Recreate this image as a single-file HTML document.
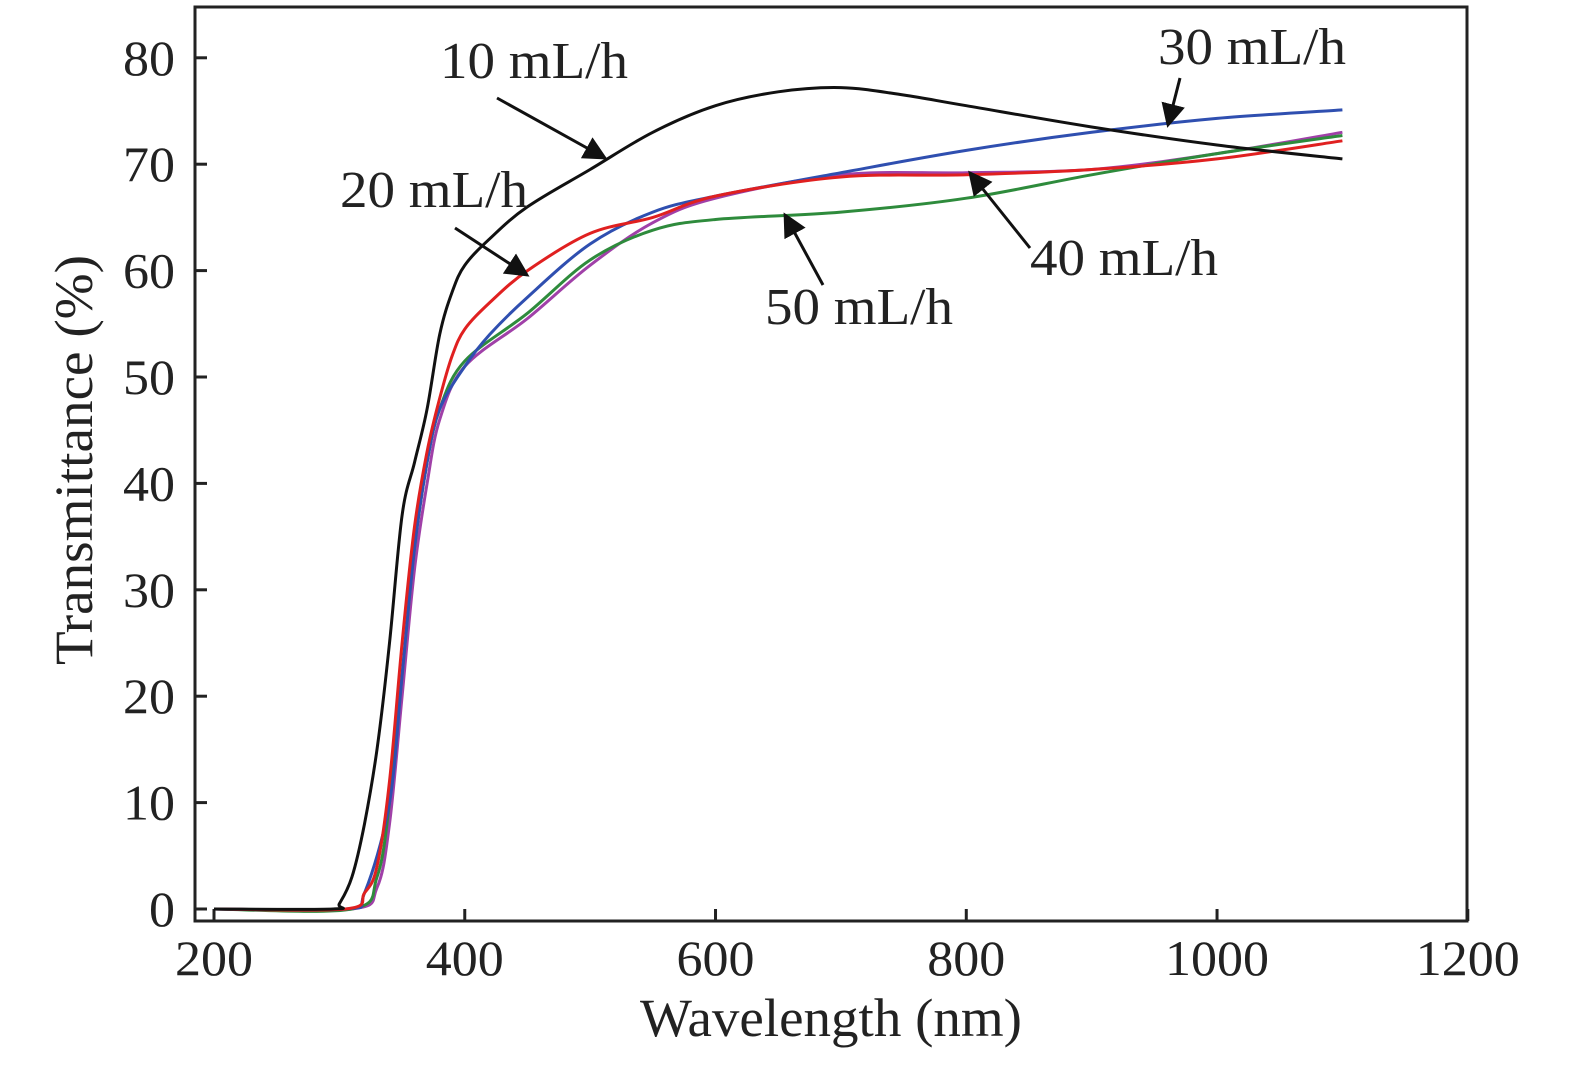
<!DOCTYPE html>
<html><head><meta charset="utf-8"><style>body{margin:0;background:#fff}svg text{font-family:"Liberation Serif",serif;fill:#222}</style></head>
<body>
<svg id="c" width="1575" height="1063"></svg>
<script>
const xTicks=[200,400,600,800,1000,1200];
const yTicks=[0,10,20,30,40,50,60,70,80];
const s10=[[200,0],[295,0],[300,0.5],[310,3],[320,8],[330,15],[340,25],[350,37],[360,42],[370,47],[380,54],[390,58],[400,60.5],[420,63],[450,66],[500,69.5],[550,73],[600,75.5],[650,76.8],[700,77.2],[750,76.5],[800,75.5],[900,73.5],[1000,71.8],[1100,70.5]];
const s20=[[200,0],[305,0],[320,1.5],[330,4],[340,12],[350,25],[360,36],[370,43],[380,48],[390,52],[400,54.5],[420,57],[450,60],[500,63.5],[550,65],[600,67],[700,68.8],[800,69],[900,69.5],[1000,70.5],[1100,72.2]];
const s30=[[200,0],[305,0],[320,1.5],[340,10],[350,22],[360,34],[370,42],[380,47],[400,51],[420,54],[450,57.5],[500,62.5],[550,65.5],[600,67],[700,69.2],[800,71.3],[900,73],[1000,74.3],[1100,75.1]];
const s40=[[200,0],[310,0],[330,2],[340,8],[350,20],[360,32],[370,40],[380,46],[400,51],[450,55.5],[500,60.5],[550,64.5],[600,66.8],[700,69],[800,69.2],[900,69.5],[1000,71],[1100,73]];
const s50=[[200,0],[310,0],[330,3],[340,10],[350,22],[360,34],[370,42],[380,47],[400,51.5],[450,56],[500,61],[550,63.8],[600,64.8],[700,65.5],[800,66.8],[900,69],[1000,71],[1100,72.7]];
const X=v=>214+(v-200)*1.2538, Y=v=>909-v*10.64;
const svg=document.getElementById('c');const NS='http://www.w3.org/2000/svg';
function mk(t,a,txt){const e=document.createElementNS(NS,t);for(const k in a)e.setAttribute(k,a[k]);if(txt!=null)e.textContent=txt;svg.appendChild(e);return e;}
let e=mk('rect',{x:195,y:7,width:1272,height:914,fill:'none',stroke:'#222','stroke-width':3});

xTicks.forEach(t=>{let l=mk('line',{x1:X(t),x2:X(t),y1:921,y2:909,stroke:'#222','stroke-width':3});
let tx=mk('text',{x:X(t),y:975,'font-size':50,'text-anchor':'middle',textLength:String(t).length*26,lengthAdjust:'spacingAndGlyphs'},t);});
yTicks.forEach(t=>{let l=mk('line',{x1:195,x2:207,y1:Y(t),y2:Y(t),stroke:'#222','stroke-width':3});
let tx=mk('text',{x:175,y:Y(t)+17,'font-size':50,'text-anchor':'end',textLength:String(t).length*26,lengthAdjust:'spacingAndGlyphs'},t);});
e=mk('text',{x:831,y:1036,'font-size':54,'text-anchor':'middle',textLength:382,lengthAdjust:'spacingAndGlyphs'},'Wavelength (nm)');
e=mk('text',{x:0,y:0,'font-size':54,'text-anchor':'middle',textLength:410,lengthAdjust:'spacingAndGlyphs',transform:'translate(92,460) rotate(-90)'},'Transmittance (%)');
function path(pts){const P=pts.map(p=>[X(p[0]),Y(p[1])]);let d='M'+P[0][0].toFixed(1)+','+P[0][1].toFixed(1);
for(let i=0;i<P.length-1;i++){const p0=P[Math.max(0,i-1)],p1=P[i],p2=P[i+1],p3=P[Math.min(P.length-1,i+2)];
const c1=[p1[0]+(p2[0]-p0[0])/6,p1[1]+(p2[1]-p0[1])/6],c2=[p2[0]-(p3[0]-p1[0])/6,p2[1]-(p3[1]-p1[1])/6];
d+='C'+c1.map(v=>v.toFixed(1))+' '+c2.map(v=>v.toFixed(1))+' '+p2.map(v=>v.toFixed(1));}return d;}
[[s40,'#a040a8','series-40'],[s50,'#2e8b3c','series-50'],[s30,'#2f4fb0','series-30'],[s20,'#e02020','series-20'],[s10,'#111','series-10']].forEach(([s,c,n])=>{
let p=mk('path',{d:path(s),fill:'none',stroke:c,'stroke-width':3,'stroke-linejoin':'round'});});
mk('defs',{}).innerHTML='<marker id="ah" markerWidth="8" markerHeight="8" refX="7" refY="4" orient="auto" markerUnits="strokeWidth"><path d="M0,0L8,4L0,8Z" fill="#111"/></marker>';
const labels=[['10 mL/h',440,78,497,98,605,158],['20 mL/h',340,207,455,228,527,275],['30 mL/h',1158,64,1180,78,1168,125],['40 mL/h',1030,275,1030,248,970,173],['50 mL/h',765,324,823,285,785,215]];
labels.forEach(([t,x,y,x1,y1,x2,y2])=>{let tx=mk('text',{x:x,y:y,'font-size':52,textLength:188,lengthAdjust:'spacingAndGlyphs'},t);
let l=mk('line',{x1:x1,y1:y1,x2:x2,y2:y2,stroke:'#111','stroke-width':3,'marker-end':'url(#ah)'});});
</script>
</body></html>
